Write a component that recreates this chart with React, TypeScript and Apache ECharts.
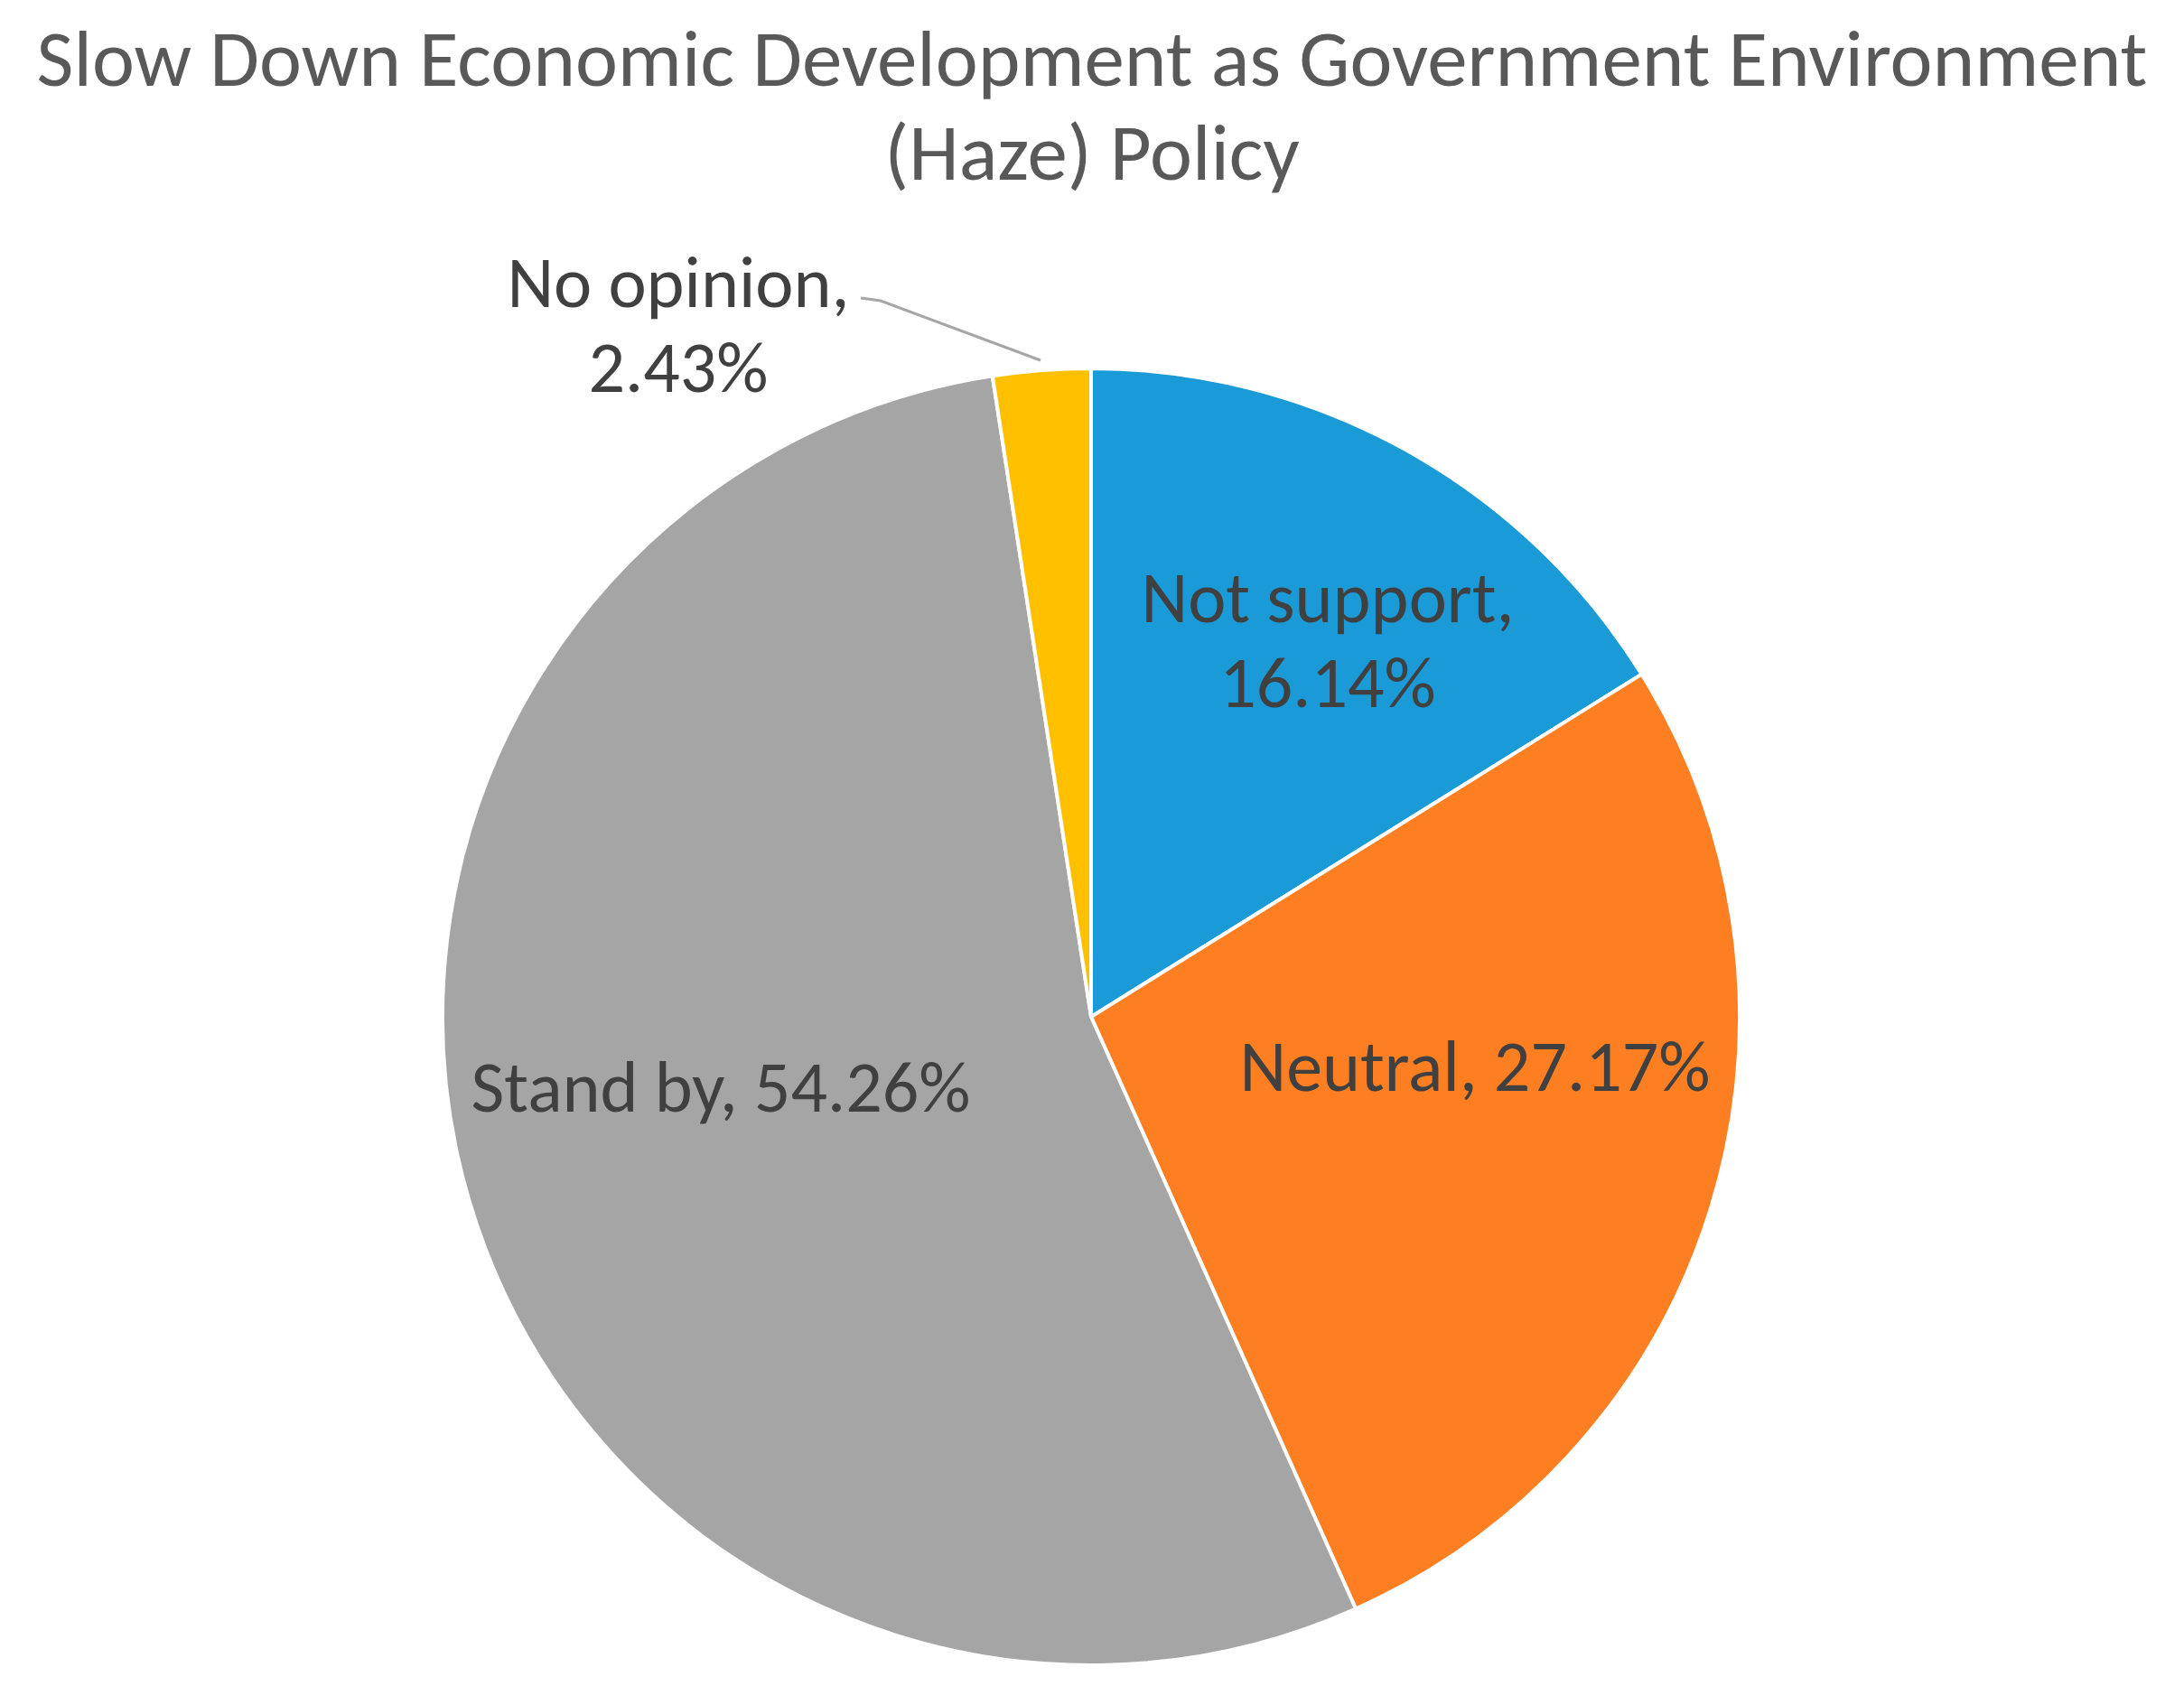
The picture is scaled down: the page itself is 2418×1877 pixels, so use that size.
import React, { useEffect, useRef } from "react";
import * as echarts from "echarts";

const titleLines = [
  "Slow Down Economic Development as Government Environment",
  "(Haze) Policy",
];
const categories = ["Not support", "Neutral", "Stand by", "No opinion"];
const values = [16.14, 27.17, 54.26, 2.43];
const colors = ["#1A9AD7", "#FE7F22", "#A5A5A5", "#FFC000"];
const twoLine = [true, false, false, true];
// label block centres (px in the 2418x1877 canvas)
const labelPos = [
  [1470, 708],
  [1633, 1180],
  [798, 1203],
  [751, 359],
];

const FONT = "Calibri, Carlito, Lato, sans-serif";

export default function App() {
  const ref = useRef<HTMLDivElement>(null);
  useEffect(() => {
    document.body.style.margin = "0";
    const chart = echarts.init(ref.current!, undefined, { renderer: "svg" });
    chart.setOption({
      animation: false,
      backgroundColor: "#ffffff",
      title: {
        text: titleLines.join("\n"),
        left: "center",
        top: 7,
        textStyle: {
          fontFamily: FONT,
          fontSize: 89,
          fontWeight: "normal",
          color: "#595959",
          lineHeight: 104,
        },
      },
      series: [
        {
          type: "pie",
          center: [1208, 1126],
          radius: 718,
          startAngle: 90,
          clockwise: true,
          avoidLabelOverlap: false,
          itemStyle: { borderColor: "#ffffff", borderWidth: 4 },
          label: {
            show: true,
            position: "inside",
            fontFamily: FONT,
            fontSize: 80,
            color: "#404040",
            lineHeight: 94,
            formatter: (p: any) =>
              twoLine[p.dataIndex]
                ? `${p.name},\n${p.value.toFixed(2)}%`
                : `${p.name}, ${p.value.toFixed(2)}%`,
          },
          labelLine: { show: false },
          labelLayout: (p: any) => {
            const i = p.dataIndex;
            const res: any = {
              x: labelPos[i][0],
              y: labelPos[i][1],
              align: "center",
              verticalAlign: "middle",
            };
            if (i === 3) {
              res.labelLinePoints = [
                [1152, 399],
                [975, 333],
                [953, 330],
              ];
            }
            return res;
          },
          data: categories.map((name, i) => ({
            name,
            value: values[i],
            itemStyle: { color: colors[i] },
            ...(i === 3
              ? {
                  label: { position: "outside" },
                  labelLine: {
                    show: true,
                    lineStyle: { color: "#A6A6A6", width: 3 },
                  },
                }
              : {}),
          })),
        },
      ],
    });
    return () => chart.dispose();
  }, []);
  return <div ref={ref} style={{ width: 2418, height: 1877 }} />;
}
